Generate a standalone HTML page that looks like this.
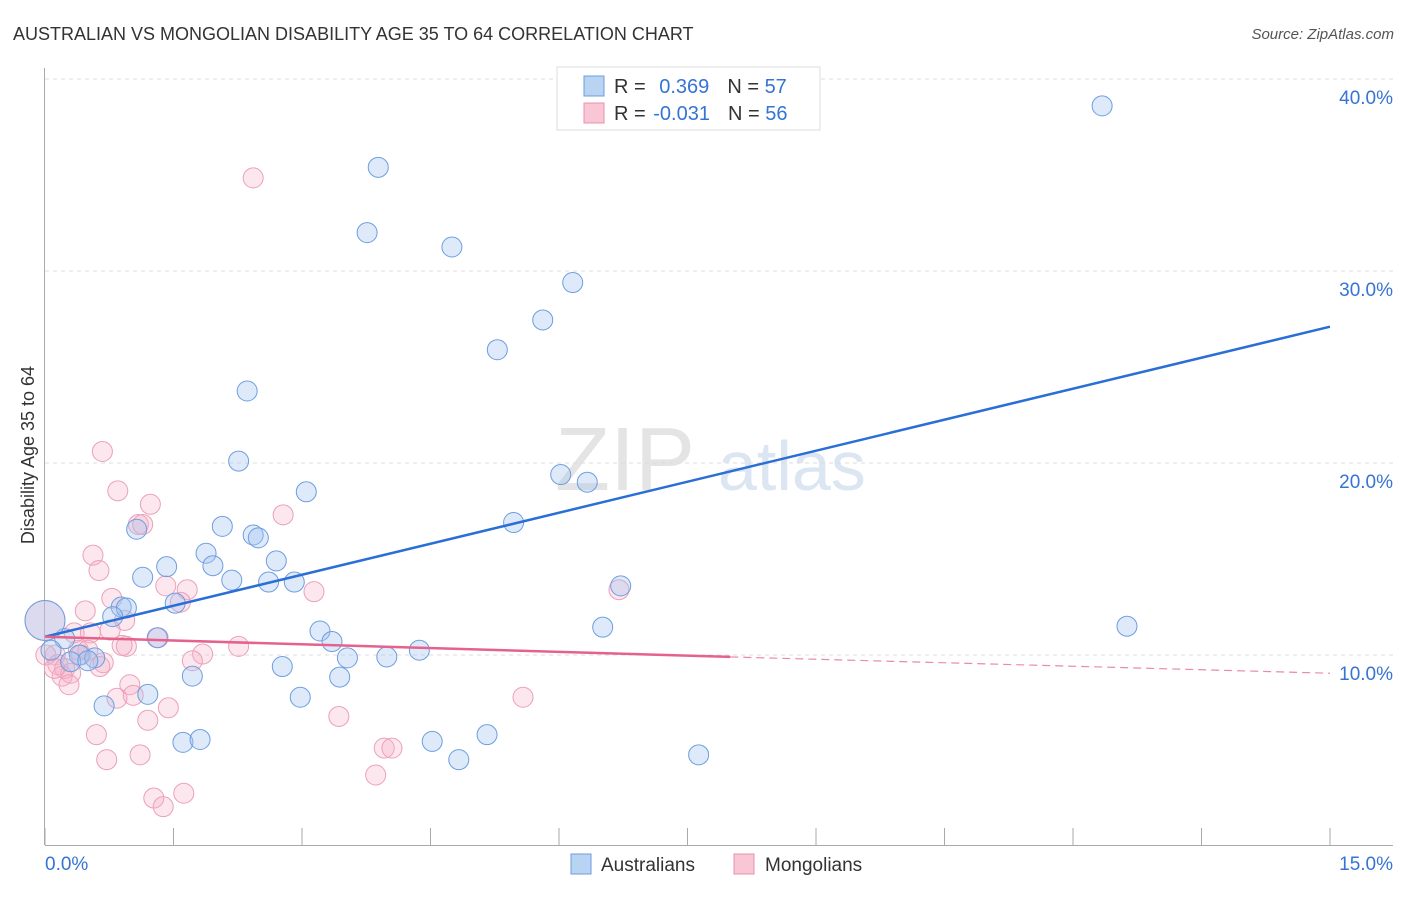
<!DOCTYPE html>
<html><head><meta charset="utf-8"><style>
body{margin:0;background:#fff;font-family:"Liberation Sans",sans-serif}
svg text{font-family:"Liberation Sans",sans-serif}
</style></head><body>
<svg id="chart" width="1406" height="892" xmlns="http://www.w3.org/2000/svg">
<text x="13" y="40" font-size="18" fill="#333">AUSTRALIAN VS MONGOLIAN DISABILITY AGE 35 TO 64 CORRELATION CHART</text>
<text x="1394" y="39" font-size="15" fill="#555" font-style="italic" text-anchor="end">Source: ZipAtlas.com</text>
<g>
<text x="555" y="490" font-size="90" fill="#e4e4e4" font-family="Liberation Serif">ZIP</text>
<text x="718" y="490" font-size="70" fill="#dce6f2">atlas</text>
</g>
<g id="grid"></g><g id="axes"></g><g id="marks"></g><g id="trends"></g>
<text transform="translate(34,455) rotate(-90)" font-size="18" fill="#333" text-anchor="middle">Disability Age 35 to 64</text>
<g>
<rect x="557" y="67" width="263" height="63" fill="#fff" stroke="#ddd"/>
<rect x="584" y="76" width="20" height="20" fill="#b9d3f3" stroke="#6a9ee0"/>
<rect x="584" y="103" width="20" height="20" fill="#f8c6d5" stroke="#e890ad"/>
<text x="614" y="93" font-size="20" fill="#333">R = <tspan fill="#3574d4" dx="8">0.369</tspan><tspan dx="18">N = </tspan><tspan fill="#3574d4">57</tspan></text>
<text x="614" y="120" font-size="20" fill="#333">R = <tspan fill="#3574d4" dx="2">-0.031</tspan><tspan dx="18">N = </tspan><tspan fill="#3574d4">56</tspan></text>
</g>
<g>
<rect x="571" y="854" width="20" height="20" fill="#b9d3f3" stroke="#6a9ee0"/>
<text x="601" y="871" font-size="19" fill="#333">Australians</text>
<rect x="734" y="854" width="20" height="20" fill="#f8c6d5" stroke="#e890ad"/>
<text x="765" y="871" font-size="19" fill="#333">Mongolians</text>
</g>
</svg>
<script>
const yTicks=[10,20,30,40];
const yTickLabels=["10.0%","20.0%","30.0%","40.0%"];
const xTickVals=[0,1.5,3,4.5,6,7.5,9,10.5,12,13.5,15];
const xEdgeLabels=["0.0%","15.0%"];
const ausX=[12.34,3.89,3.76,4.75,6.16,5.81,5.28,2.36,2.26,6.02,6.33,3.05,5.47,2.07,1.07,2.43,2.49,1.88,2.70,1.42,1.96,1.14,2.18,2.61,2.91,1.52,0.89,0.95,0.79,12.63,6.51,3.21,1.31,3.35,0.23,4.37,0.07,0.40,0.58,3.53,3.99,0.30,0.50,2.77,1.72,3.44,1.20,2.98,0.69,1.61,1.81,4.52,5.16,4.83,7.63,6.72,0];
const ausY=[38.6,35.4,32.0,31.25,29.4,27.45,25.9,23.75,20.1,19.4,19.0,18.5,16.9,16.7,16.55,16.25,16.1,15.3,14.9,14.6,14.65,14.05,13.9,13.8,13.8,12.7,12.5,12.45,12.0,11.5,11.45,11.25,10.9,10.7,10.85,10.25,10.25,10.0,9.85,9.85,9.9,9.65,9.7,9.4,8.9,8.85,7.95,7.8,7.35,5.45,5.6,5.5,5.85,4.55,4.8,13.6,11.8];
const monX=[2.43,0.67,0.85,1.23,2.78,1.09,1.14,0.56,0.63,1.41,1.66,3.14,0.78,0.47,1.58,0.93,0.76,0.34,0.53,0,2.26,0.95,0.90,1.32,1.84,0.12,0.39,1.72,0.68,0.50,0.15,0.23,0.30,0.20,0.28,0.99,0.84,1.03,5.58,1.44,3.43,1.20,0.60,0.72,1.11,3.96,4.05,3.86,1.27,1.62,1.38,6.70,0.01,0.11,0.64,0.42];
const monY=[34.85,20.6,18.55,17.85,17.3,16.8,16.8,15.2,14.4,13.6,13.4,13.3,12.95,12.3,12.75,11.8,11.3,11.15,11.15,11.8,10.45,10.45,10.5,10.9,10.05,10.0,10.25,9.7,9.6,10.25,9.5,9.3,9.05,8.9,8.45,8.45,7.75,7.9,7.8,7.25,6.8,6.6,5.85,4.55,4.8,5.15,5.15,3.75,2.55,2.8,2.1,13.4,10.0,9.3,9.4,10.0];
const ausTrendX=[0,15], ausTrendY=[10.95,27.1];
const monTrendX=[0,8,15], monTrendY=[10.95,9.9,9.05];

const NS="http://www.w3.org/2000/svg";
const X=v=>45+v/15*1285;
const Y=v=>847-v*19.2;
function mk(tag,parent,attrs){const e=document.createElementNS(NS,tag);for(const k in attrs)e.setAttribute(k,attrs[k]);document.getElementById(parent).appendChild(e);return e;}
yTicks.forEach((t,i)=>{
 const l=mk('line','grid',{x1:45,x2:1393,y1:Y(t),y2:Y(t),stroke:'#ddd','stroke-dasharray':'4,4'});
 
 
 const tx=mk('text','grid',{x:1393,y:Y(t)+25,'font-size':19,fill:'#3574d4','text-anchor':'end'});
 tx.textContent=yTickLabels[i];
 
 
});
const topGrid=mk('line','grid',{x1:45,x2:1393,y1:79,y2:79,stroke:'#ddd','stroke-dasharray':'4,4'});


const ya=mk('line','axes',{x1:44.5,x2:44.5,y1:68,y2:845,stroke:'#aaa'});


const xa=mk('line','axes',{x1:45,x2:1393,y1:845.5,y2:845.5,stroke:'#aaa'});


xTickVals.forEach(v=>{
 const t=mk('line','axes',{x1:X(v),x2:X(v),y1:828,y2:845,stroke:'#aaa'});
 
 
});
const xl0=mk('text','axes',{x:45,y:870,'font-size':19,fill:'#3574d4'});
xl0.textContent=xEdgeLabels[0];


const xl1=mk('text','axes',{x:1393,y:870,'font-size':19,fill:'#3574d4','text-anchor':'end'});
xl1.textContent=xEdgeLabels[1];


function dots(xs,ys,fill,stroke,name){
 xs.forEach((x,i)=>{
  const r=(x===0)?20:10;
  const c=mk('circle','marks',{cx:X(x),cy:Y(ys[i]),r:r,fill:fill,stroke:stroke,'stroke-width':1});
  
  
 });
}
dots(monX,monY,'rgba(245,175,198,0.3)','#eca0b8','mongolian-point');
dots(ausX,ausY,'rgba(160,196,240,0.35)','#6c9edf','australian-point');
const bl=mk('line','trends',{x1:X(ausTrendX[0]),y1:Y(ausTrendY[0]),x2:X(ausTrendX[1]),y2:Y(ausTrendY[1]),stroke:'#2a6fd6','stroke-width':2.5});


const pl=mk('line','trends',{x1:X(monTrendX[0]),y1:Y(monTrendY[0]),x2:X(monTrendX[1]),y2:Y(monTrendY[1]),stroke:'#e4628c','stroke-width':2.5});


const pd=mk('line','trends',{x1:X(monTrendX[1]),y1:Y(monTrendY[1]),x2:X(monTrendX[2]),y2:Y(monTrendY[2]),stroke:'#e98aa8','stroke-width':1.2,'stroke-dasharray':'8,5'});


</script>
</body></html>
